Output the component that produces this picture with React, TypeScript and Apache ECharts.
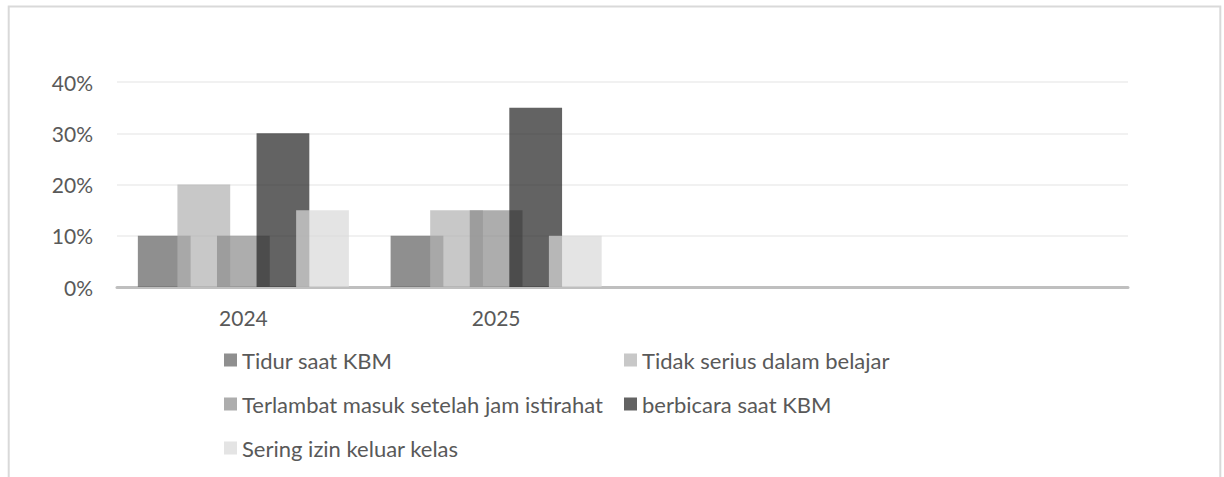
import React, { useEffect, useRef } from "react";
import * as echarts from "echarts";

const categories = ["2024", "2025", "", ""];
const seriesNames = [
  "Tidur saat KBM",
  "Tidak serius dalam belajar",
  "Terlambat masuk setelah jam istirahat",
  "berbicara saat KBM",
  "Sering izin keluar kelas",
];
const tidurSaatKBM = [10, 10, null, null];
const tidakSerius = [20, 15, null, null];
const terlambatMasuk = [10, 15, null, null];
const berbicaraSaatKBM = [30, 35, null, null];
const seringIzin = [15, 10, null, null];
const seriesValues = [tidurSaatKBM, tidakSerius, terlambatMasuk, berbicaraSaatKBM, seringIzin];
const yTicks = [0, 10, 20, 30, 40];

const colors = [
  "rgba(98,98,98,0.714)",
  "rgba(178,178,178,0.714)",
  "rgba(140,140,140,0.714)",
  "rgba(37,37,37,0.714)",
  "rgba(217,217,217,0.714)",
];

const legendPos = [
  { left: 224, top: 348 },
  { left: 624, top: 348 },
  { left: 224, top: 392 },
  { left: 624, top: 392 },
  { left: 224, top: 436 },
];

const FONT = "Lato, 'Open Sans', sans-serif";
const TEXT = "#595959";

export default function App() {
  const ref = useRef<HTMLDivElement>(null);
  useEffect(() => {
    if (!ref.current) return;
    const chart = echarts.init(ref.current, undefined, { renderer: "svg" });
    chart.setOption({
      animation: false,
      backgroundColor: "#ffffff",
      textStyle: { fontFamily: FONT },
      grid: { left: 117, right: 96, top: 82, bottom: 190, containLabel: false },
      xAxis: {
        type: "category",
        data: categories,
        axisTick: { show: false },
        axisLine: { show: true, lineStyle: { color: "#bfbfbf", width: 3 } },
        axisLabel: { color: TEXT, fontSize: 21, fontFamily: FONT, margin: 20, interval: 0 },
        splitLine: { show: false },
      },
      yAxis: {
        type: "value",
        min: yTicks[0],
        max: yTicks[yTicks.length - 1],
        interval: 10,
        axisLine: { show: false },
        axisTick: { show: false },
        axisLabel: { color: TEXT, fontSize: 21, fontFamily: FONT, margin: 24, formatter: "{value}%" },
        splitLine: { show: true, lineStyle: { color: "#ededed", width: 1.5 } },
      },
      legend: seriesNames.map((name, i) => ({
        data: [name],
        left: legendPos[i].left,
        top: legendPos[i].top,
        padding: 0,
        icon: "rect",
        itemWidth: 13,
        itemHeight: 13,
        selectedMode: false,
        textStyle: { color: TEXT, fontSize: 22, fontFamily: FONT, lineHeight: 24 },
      })),
      series: seriesNames.map((name, i) => ({
        name,
        type: "bar",
        data: seriesValues[i],
        barGap: "-25%",
        barCategoryGap: "16.5%",
        itemStyle: { color: colors[i] },
        emphasis: { disabled: true },
      })),
      graphic: [
        {
          type: "rect",
          shape: { x: 8.7, y: 6.5, width: 1211.6, height: 600 },
          style: { fill: "none", stroke: "#d9d9d9", lineWidth: 2 },
          silent: true,
        },
      ],
    });
    return () => chart.dispose();
  }, []);
  return (
    <div
      ref={ref}
      style={{ position: "absolute", left: 0, top: 0, width: 1224, height: 477 }}
    />
  );
}
